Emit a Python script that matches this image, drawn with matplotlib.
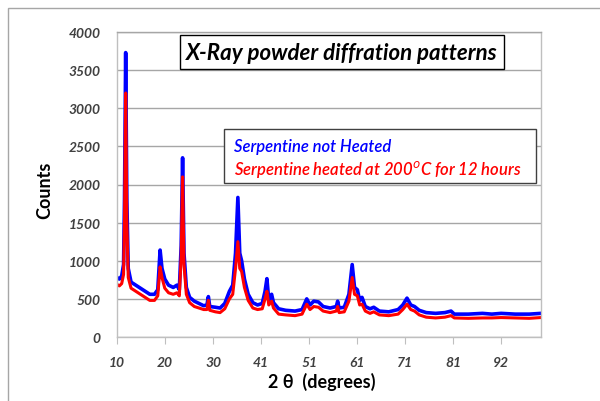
## X-ray powder diffraction patterns of serpentine (heated vs not heated)

import matplotlib
matplotlib.use('Agg')
import matplotlib.pyplot as plt
from matplotlib.patches import Rectangle

# values (2 theta in degrees, counts)
two_theta = [10.0, 10.5, 11.0, 11.4, 11.6, 11.85, 12.1, 12.4, 13.0, 14.0,
             15.0, 16.0, 17.0, 18.0, 18.7, 19.2, 19.6, 20.2, 21.0, 22.0,
             22.8, 23.3, 23.7, 24.0, 24.3, 24.8, 25.5, 26.5, 27.5, 28.5,
             29.2, 29.5, 29.8, 31.0, 32.0, 33.0, 34.0, 34.7, 35.3, 35.8,
             36.2, 36.6, 37.2, 38.0, 39.0, 40.0, 41.0, 41.6, 42.0, 42.4,
             43.0, 43.4, 44.5, 46.0, 48.0, 49.5, 50.5, 51.2, 52.0, 53.0,
             54.0, 55.5, 56.8, 57.1, 57.4, 58.5, 59.5, 60.2, 60.7, 61.3,
             61.8, 62.3, 63.0, 64.0, 64.8, 66.0, 68.0, 70.0, 71.0, 71.9,
             72.7, 73.5, 74.5, 76.0, 78.0, 80.0, 81.3, 82.0, 85.0, 88.0,
             90.0, 92.0, 95.0, 98.0, 100.5]

not_heated = [780, 760, 800, 950, 1800, 3730, 1800, 900, 720, 680,
              640, 600, 560, 560, 620, 1140, 900, 760, 680, 650,
              680, 620, 1200, 2350, 1100, 650, 520, 470, 440, 410,
              420, 530, 400, 390, 380, 440, 600, 680, 1100, 1830,
              1100, 1000, 760, 560, 450, 420, 440, 600, 765, 480,
              560, 450, 370, 350, 340, 360, 500, 420, 470, 460,
              400, 380, 400, 470, 380, 390, 560, 950, 650, 620,
              480, 520, 400, 370, 390, 340, 330, 360, 420, 510,
              420, 400, 350, 320, 310, 320, 340, 300, 300, 310,
              300, 310, 300, 300, 310]

heated_200 = [690, 670, 700, 820, 1500, 3200, 1500, 780, 640, 600,
              560, 520, 480, 480, 540, 920, 780, 640, 580, 560,
              580, 540, 1050, 2100, 950, 560, 450, 400, 380, 360,
              360, 480, 350, 330, 320, 370, 500, 560, 900, 1250,
              900, 860, 650, 480, 380, 360, 370, 500, 600, 420,
              470, 380, 300, 290, 280, 300, 430, 360, 400, 390,
              340, 320, 340, 400, 320, 330, 470, 780, 560, 540,
              420, 430, 340, 310, 330, 290, 280, 300, 360, 430,
              360, 340, 290, 260, 250, 260, 280, 250, 245, 250,
              250, 255, 250, 245, 255]

tick_pos = [10, 20.25, 30.5, 40.75, 51, 61.25, 71.5, 81.75, 92]
tick_lab = ['10', '20', '30', '41', '51', '61', '71', '81', '92']

plt.rcParams['font.family'] = ['Lato', 'DejaVu Sans']

fig = plt.figure(figsize=(6, 4.02), dpi=100)
fig.patch.set_facecolor('white')

# outer chart border (cut off at right and bottom like the original)
fig.patches.append(Rectangle((8/600, -0.1), 1.2, 0.1 + (402-9)/402,
                             transform=fig.transFigure, fill=False,
                             edgecolor='#a6a6a6', linewidth=1.0))

ax = fig.add_axes([117/600, 64/402, 424/600, 305/402])
ax.plot(two_theta, not_heated, color='#0000ff', linewidth=2.6)
ax.plot(two_theta, heated_200, color='#ff0000', linewidth=2.2)

ax.set_xlim(10, 100.5)
ax.set_ylim(0, 4000)
ax.set_yticks(range(0, 4001, 500))
ax.set_xticks(tick_pos)
ax.set_xticklabels(tick_lab)
ax.grid(axis='y', color='#a6a6a6', linewidth=1.0)
ax.set_axisbelow(True)
for s in ax.spines.values():
    s.set_color('#bfbfbf')
    s.set_linewidth(1.0)
ax.spines['top'].set_color('#a6a6a6')
ax.tick_params(axis='y', length=0, pad=12)
ax.tick_params(axis='x', length=5, color='#bfbfbf', pad=9)
for lab in ax.get_xticklabels() + ax.get_yticklabels():
    lab.set_fontsize(10)
    lab.set_fontweight('bold')
    lab.set_fontstyle('italic')
    lab.set_color('#404040')

fig.text(45/600, 1 - 190/402, 'Counts', fontsize=13, fontweight='bold',
         rotation=90, ha='center', va='center')
fig.text(322/600, 1 - 382/402, '2 θ  (degrees)', fontsize=13, fontweight='bold',
         ha='center', va='center')

# title box
fig.text(342/600, 1 - 53/402, 'X-Ray powder diffration patterns', fontsize=16,
         fontweight='bold', fontstyle='italic', ha='center', va='center',
         bbox=dict(boxstyle='square,pad=0.3', fc='white', ec='black', lw=1.0))

# legend box
fig.patches.append(Rectangle((224/600, 1 - 184/402), 312/600, 54/402,
                             transform=fig.transFigure, fc='white',
                             ec='#404040', lw=1.0, zorder=5))
fig.text(234/600, 1 - 147/402, 'Serpentine not Heated', fontsize=12,
         fontstyle='italic', fontweight='semibold', color='#0000ff',
         va='center', zorder=6)
fig.text(234/600, 1 - 170/402, 'Serpentine heated at 200$^o$C for 12 hours',
         fontsize=12, fontstyle='italic', fontweight='semibold', color='#ff0000',
         va='center', zorder=6)

plt.savefig('out.png', dpi=100)
